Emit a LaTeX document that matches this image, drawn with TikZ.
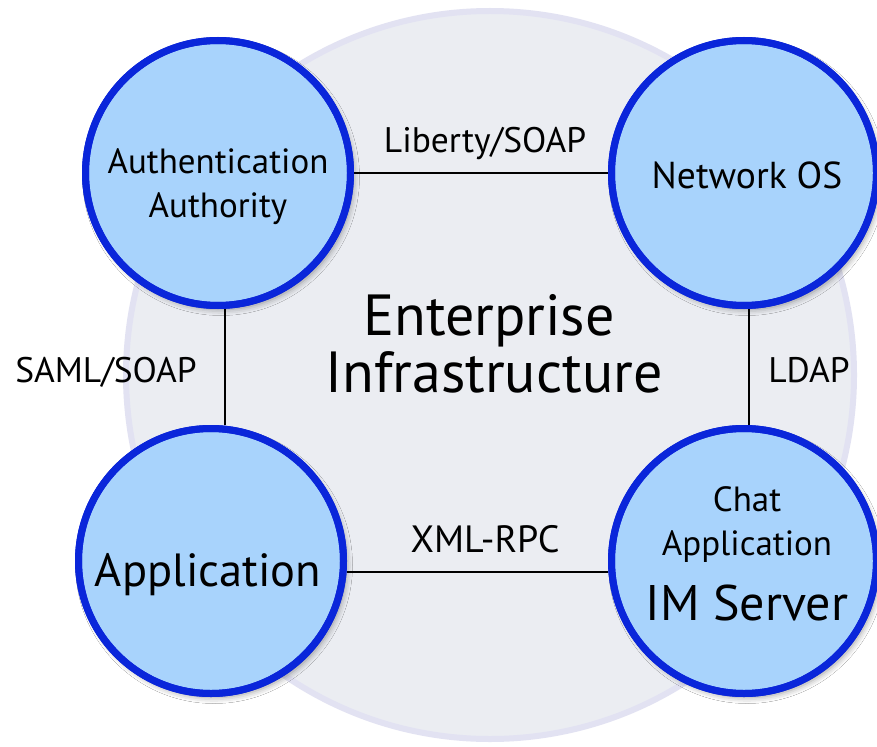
\documentclass[tikz,border=0pt]{standalone}
\usepackage{fontspec}
\setmainfont{PT Sans}
\usetikzlibrary{shadows.blur}
\definecolor{bgfill}{HTML}{EBEDF2}
\definecolor{bgring}{HTML}{E2E2F2}
\definecolor{nodefill}{HTML}{A8D3FC}
\definecolor{nodeline}{HTML}{0A26DA}
\tikzset{
  bubble/.style={circle, draw=nodeline, fill=nodefill, line width=7pt, minimum size=265pt, inner sep=0pt,
    blur shadow={shadow xshift=3pt, shadow yshift=-4pt, shadow blur radius=6pt, shadow opacity=40}},
  ring/.style={draw=nodeline, line width=7pt},
  link/.style={draw=black, line width=2pt},
  lbl/.style={anchor=base, inner sep=0pt, font=\fontsize{35.5}{40}\selectfont},
  ntxt/.style={anchor=base, inner sep=0pt, font=\fontsize{35}{40}\selectfont},
  bigtxt/.style={anchor=base, inner sep=0pt, font=\fontsize{46.5}{54}\selectfont},
  hugetxt/.style={anchor=base, inner sep=0pt, font=\fontsize{58}{70}\selectfont}
}
\begin{document}
\begin{tikzpicture}[x=1pt,y=-1pt]
\useasboundingbox (0,0) rectangle (877,746);
\fill[white] (0,0) rectangle (877,746);
% background
\draw[fill=bgfill, draw=bgring, line width=6pt] (490,375) circle (364);
% circles
\node[bubble] (auth) at (218,173) {};
\node[bubble] (netos) at (744,173) {};
\node[bubble] (app) at (211,561) {};
\node[bubble] (im) at (744,561) {};
% connectors
\draw[link] (auth.east) -- (netos.west);
\draw[link] ([xshift=7pt]auth.south) -- ([xshift=14pt]app.north);
\draw[link] ([xshift=5pt]netos.south) -- ([xshift=5pt]im.north);
\draw[link] ([yshift=-11pt]app.east) -- ([yshift=-11pt]im.west);
% circle borders on top of connectors
\draw[ring] (auth) circle (132.5);
\draw[ring] (netos) circle (132.5);
\draw[ring] (app) circle (132.5);
\draw[ring] (im) circle (132.5);
% texts
\node[ntxt] (authA) at (218,174) {Authentication};
\node[ntxt] (authB) at (218,217) {Authority};
\node[ntxt] (netosT) at (747,188) {\fontsize{37.5}{40}\selectfont Network OS};
\node[bigtxt] (appT) at (208,586) {Application};
\node[ntxt] (imA) at (747,511) {Chat};
\node[ntxt] (imB) at (747,555) {Application};
\node[bigtxt] (imC) at (747,620) {\fontsize{50}{54}\selectfont IM Server};
\node[hugetxt] (entA) at (489,335) {Enterprise};
\node[hugetxt] (entB) at (494,392) {Infrastructure};
\node[lbl] (l1) at (485,153) {Liberty/SOAP};
\node[lbl] (l2) at (106,382) {SAML/SOAP};
\node[lbl] (l3) at (809,382) {LDAP};
\node[lbl] (l4) at (485,552) {\fontsize{38}{40}\selectfont XML-RPC};
\end{tikzpicture}
\end{document}
